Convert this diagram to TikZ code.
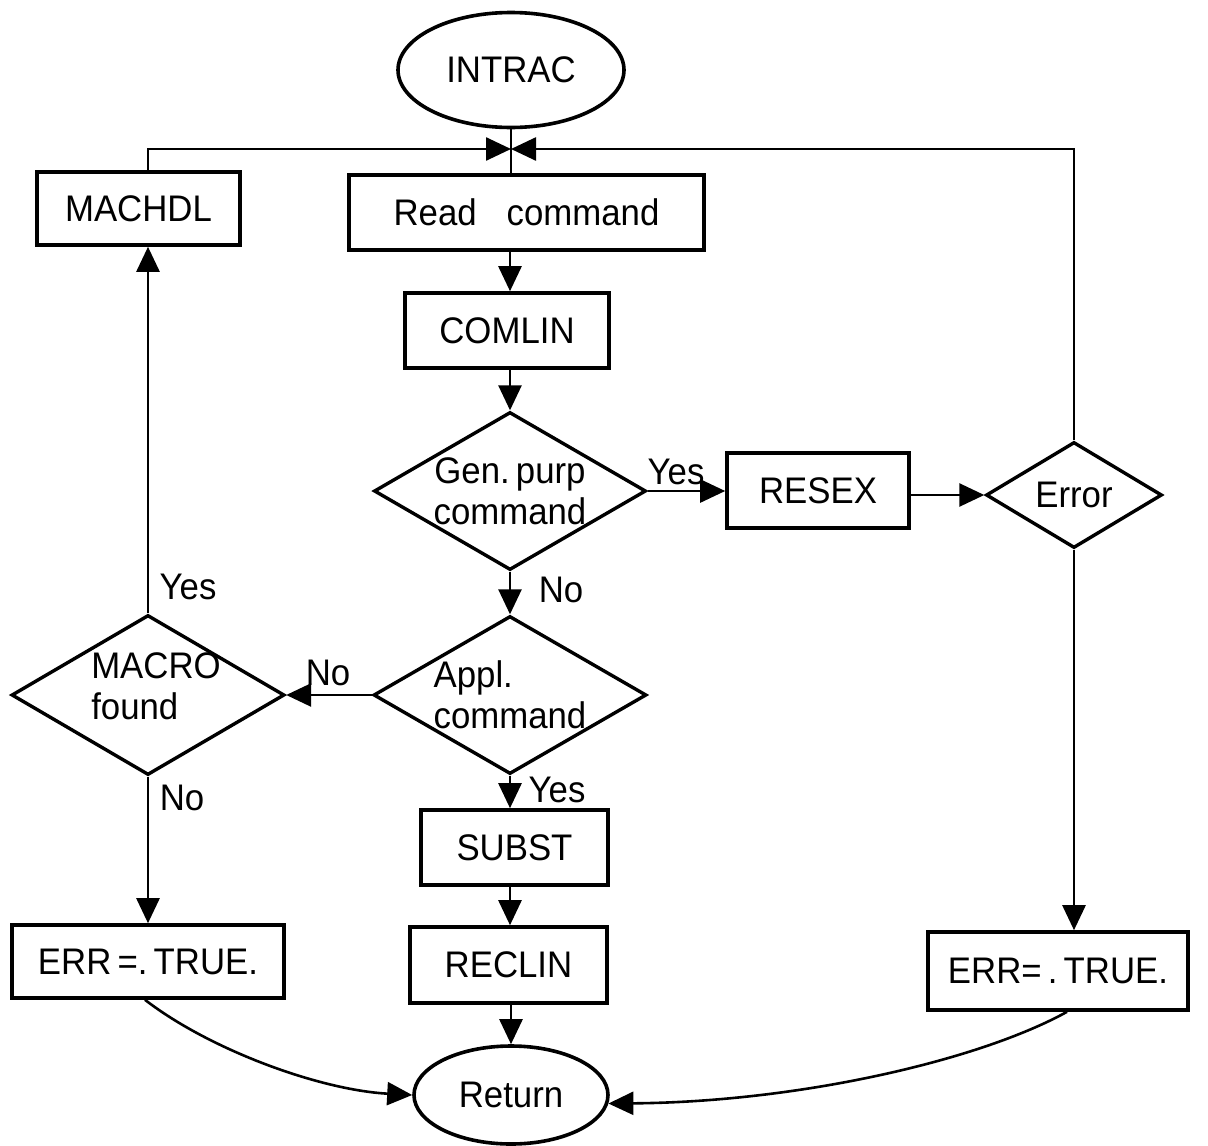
\documentclass[tikz,border=0pt]{standalone}
\usepackage{fontspec}
\setmainfont[FakeStretch=0.94]{Liberation Sans}
\usetikzlibrary{shapes.geometric,arrows.meta}
\begin{document}
\begin{tikzpicture}[x=1pt,y=-1pt,
  every node/.style={font=\fontsize{37}{41}\selectfont},
  box/.style={draw, line width=3.6pt, inner sep=0pt},
  dia/.style={draw, diamond, line width=3.4pt, inner sep=0pt},
  oval/.style={draw, ellipse, line width=3.6pt, inner sep=0pt},
  conn/.style={line width=2.6pt},
  arr/.style={conn, -{Triangle[length=25pt,width=23pt]}},
  lbl/.style={inner sep=0pt}
]
\useasboundingbox (0,0) rectangle (1208,1146);

% process boxes, decisions and terminals
\node[oval, minimum width=226, minimum height=115] (intrac) at (511,70) {INTRAC};
\node[box, minimum width=203, minimum height=73] (machdl) at (138.5,208.5) {MACHDL};
\node[box, minimum width=355, minimum height=75] (read) at (526.5,212.5) {Read\hspace{30pt}command};
\node[box, minimum width=204, minimum height=75] (comlin) at (507,330.5) {COMLIN};
\node[dia, minimum width=272, minimum height=158,
      label={[lbl, align=center]center:Gen.\,purp\\command}] (gen) at (510,491) {};
\node[box, minimum width=182, minimum height=75] (resex) at (818,490.5) {RESEX};
\node[dia, minimum width=176, minimum height=106,
      label={[lbl]center:Error}] (error) at (1074,495) {};
\node[dia, minimum width=273, minimum height=158,
      label={[lbl, align=left]center:Appl.\\command}] (appl) at (510,695) {};
\node[dia, minimum width=273, minimum height=160,
      label={[lbl, align=left, xshift=8pt, yshift=9pt]center:MACRO\\found}] (macro) at (148,695) {};
\node[box, minimum width=187, minimum height=75] (subst) at (514.5,847.5) {SUBST};
\node[box, minimum width=197, minimum height=76] (reclin) at (508.5,965) {RECLIN};
\node[box, minimum width=272, minimum height=73] (errL) at (148,961.5) {ERR\,=.\,TRUE.};
\node[box, minimum width=260, minimum height=78] (errR) at (1058,971) {ERR=\,.\,TRUE.};
\node[oval, minimum width=194, minimum height=98] (ret) at (511,1095) {Return};

% junction above "Read command"
\coordinate (j) at (511,149);

% connectors
\draw[conn] (intrac.south) -- (intrac.south |- read.north);
\draw[arr] (macro.north |- machdl.north) |- (j);
\draw[arr] (error.north) |- (j);
\draw[arr] (read.south -| gen.north) -- (gen.north |- comlin.north);
\draw[arr] (comlin.south -| gen.north) -- (gen.north);
\draw[arr] (gen.east) -- (gen.east -| resex.west);
\draw[arr] (resex.east |- error.west) -- (error.west);
\draw[arr] (gen.south) -- (appl.north);
\draw[arr] (appl.west) -- (macro.east);
\draw[arr] (macro.north) -- (macro.north |- machdl.south);
\draw[arr] (macro.south) -- (macro.south |- errL.north);
\draw[arr] (appl.south) -- (appl.south |- subst.north);
\draw[arr] (subst.south -| appl.south) -- (appl.south |- reclin.north);
\draw[arr] (reclin.south -| ret.north) -- (ret.north);
\draw[arr] (error.south) -- (error.south |- errR.north);
\draw[arr] ([xshift=-3pt]errL.south) .. controls (210,1050) and (320,1090) .. (ret.west);
\draw[arr] ([xshift=9pt]errR.south) .. controls (980,1060) and (800,1102) .. (ret.-5);

% branch labels
\node[lbl] (y1) at (676,472) {Yes};
\node[lbl] (n1) at (561,590) {No};
\node[lbl] (n2) at (328,673) {No};
\node[lbl] (y2) at (188,587) {Yes};
\node[lbl] (n3) at (182,798) {No};
\node[lbl] (y3) at (557,790) {Yes};
\end{tikzpicture}
\end{document}
